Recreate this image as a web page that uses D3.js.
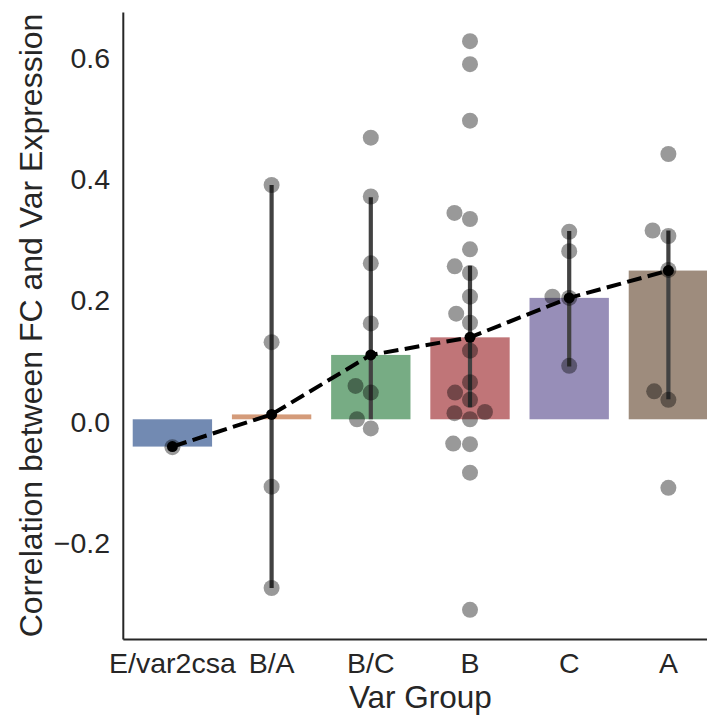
<!DOCTYPE html>
<html>
<head>
<meta charset="utf-8">
<script src="https://cdn.jsdelivr.net/npm/d3@7"></script>
<style>
  html, body { margin: 0; padding: 0; background: #ffffff; }
  svg { display: block; }
  text { font-family: "Liberation Sans", Arial, sans-serif; fill: #262626; }
</style>
</head>
<body>
<div id="chart"></div>
<script>
// ---------------- data ----------------
const categories = ["E/var2csa", "B/A", "B/C", "B", "C", "A"];
// median per group (bar height and point-plot marker)
const medians = [-0.045, 0.008, 0.106, 0.135, 0.200, 0.245];
// bootstrap CI of the median (error bars); null = single observation
const ciLow  = [null, -0.278, 0.000, 0.020, 0.087, 0.033];
const ciHigh = [null,  0.386, 0.366, 0.253, 0.310, 0.311];
// individual observations per group
const ptsE  = [-0.046];
const ptsBA = [0.386, 0.127, -0.111, -0.278];
const ptsBC = [0.464, 0.367, 0.257, 0.158, 0.055, 0.044, 0.000, -0.015];
const ptsB  = [0.623, 0.585, 0.492, 0.340, 0.330, 0.280, 0.252, 0.241, 0.202,
               0.174, 0.159, 0.113, 0.061, 0.044, 0.032, 0.010, 0.012, 0.000,
               -0.040, -0.041, -0.088, -0.314];
const ptsC  = [0.309, 0.277, 0.202, 0.200, 0.088];
const ptsA  = [0.437, 0.311, 0.302, 0.246, 0.046, 0.032, -0.113];
const groupPoints = [ptsE, ptsBA, ptsBC, ptsB, ptsC, ptsA];
const yTicks = [-0.2, 0.0, 0.2, 0.4, 0.6];
const yTickLabels = ["\u22120.2", "0.0", "0.2", "0.4", "0.6"];
const xLabel = "Var Group";
const yLabel = "Correlation between FC and Var Expression";
const barColors = ["#5975a4", "#cc8963", "#5f9e6e", "#b55d60", "#857aab", "#8d7866"];

// ---------------- layout ----------------
const W = 707, H = 715;
const svg = d3.select("#chart").append("svg").attr("width", W).attr("height", H);

const x = d3.scaleBand().domain(categories).range([122.8, 718])
  .paddingInner(0.2).paddingOuter(0.1);
const cx = c => x(c) + x.bandwidth() / 2;
const y = d3.scaleLinear().domain([-0.362, 0.671]).range([639, 12]);

const R = 8; // strip point radius (px)

// seaborn-like beeswarm layout (returns x offsets in px)
function swarm(values) {
  const items = values.map(v => ({ v, py: y(v), ox: 0 }));
  const order = items.slice().sort((a, b) => a.v - b.v);
  const placed = [];
  const d = 2 * R;
  for (const p of order) {
    const nb = placed.filter(q => Math.abs(q.py - p.py) < d);
    const left = [], right = [];
    nb.forEach(q => {
      const dy = q.py - p.py;
      const dx = Math.sqrt(Math.max(d * d - dy * dy, 0)) * 1.05;
      left.push(q.ox - dx); right.push(q.ox + dx);
    });
    const cands = [0].concat(left, right)
      .map((c, i) => ({ c, i }))
      .sort((a, b) => (Math.abs(a.c) - Math.abs(b.c)) || (a.i - b.i));
    let chosen = 0;
    for (const { c } of cands) {
      const ok = nb.every(q => {
        const ddx = q.ox - c, ddy = q.py - p.py;
        return ddx * ddx + ddy * ddy >= d * d - 1e-6;
      });
      if (ok) { chosen = c; break; }
    }
    p.ox = chosen;
    placed.push(p);
  }
  return items;
}

// ---------------- bars ----------------
svg.append("g").selectAll("rect").data(categories).join("rect")
  .attr("x", c => x(c))
  .attr("width", x.bandwidth())
  .attr("y", (c, i) => y(Math.max(0, medians[i])))
  .attr("height", (c, i) => Math.abs(y(medians[i]) - y(0)))
  .attr("fill", (c, i) => barColors[i])
  .attr("fill-opacity", 0.85);

// ---------------- error bars ----------------
svg.append("g").selectAll("line").data(categories.filter((c, i) => ciLow[i] !== null)).join("line")
  .attr("x1", c => cx(c)).attr("x2", c => cx(c))
  .attr("y1", c => y(ciLow[categories.indexOf(c)]))
  .attr("y2", c => y(ciHigh[categories.indexOf(c)]))
  .attr("stroke", "#424242")
  .attr("stroke-width", 4.2);

// ---------------- swarm points ----------------
const ptsG = svg.append("g");
categories.forEach((c, i) => {
  const laid = swarm(groupPoints[i]);
  ptsG.selectAll(null).data(laid).join("circle")
    .attr("cx", p => cx(c) + p.ox)
    .attr("cy", p => p.py)
    .attr("r", R)
    .attr("fill", "#000")
    .attr("fill-opacity", 0.4);
});

// ---------------- median line (point plot) ----------------
const line = d3.line().x((d, i) => cx(categories[i])).y(d => y(d));
svg.append("path").datum(medians)
  .attr("d", line)
  .attr("fill", "none")
  .attr("stroke", "#000")
  .attr("stroke-width", 4)
  .attr("stroke-dasharray", "14.8,6.4");
svg.append("g").selectAll("circle").data(medians).join("circle")
  .attr("cx", (d, i) => cx(categories[i]))
  .attr("cy", d => y(d))
  .attr("r", 5.5)
  .attr("fill", "#000");

// ---------------- axes ----------------
const yAxis = d3.axisLeft(y).tickValues(yTicks)
  .tickFormat((d, i) => yTickLabels[i]).tickSize(0).tickSizeOuter(0).tickPadding(12.8);
const gy = svg.append("g").attr("transform", "translate(122.8,0)").call(yAxis);
gy.selectAll("text").attr("font-size", 28.5).attr("dy", "0.42em")
  .style("font-family", "'Liberation Sans', Arial, sans-serif").attr("fill", "#262626");
gy.select(".domain").attr("stroke", "#262626").attr("stroke-width", 2);

const xAxis = d3.axisBottom(x).tickSize(0).tickSizeOuter(0).tickPadding(13.4);
const gx = svg.append("g").attr("transform", "translate(0,639)").call(xAxis);
gx.selectAll("text").attr("font-size", 28.5)
  .style("font-family", "'Liberation Sans', Arial, sans-serif").attr("fill", "#262626");
gx.select(".domain").attr("stroke", "#262626").attr("stroke-width", 2);

// axis labels
svg.append("text")
  .attr("x", (122.8 + 718) / 2).attr("y", 707.5)
  .attr("text-anchor", "middle").attr("font-size", 31.5)
  .text(xLabel);
svg.append("text")
  .attr("transform", `translate(41.7,${(12 + 639) / 2}) rotate(-90)`)
  .attr("text-anchor", "middle").attr("font-size", 32)
  .text(yLabel);
</script>
</body>
</html>
